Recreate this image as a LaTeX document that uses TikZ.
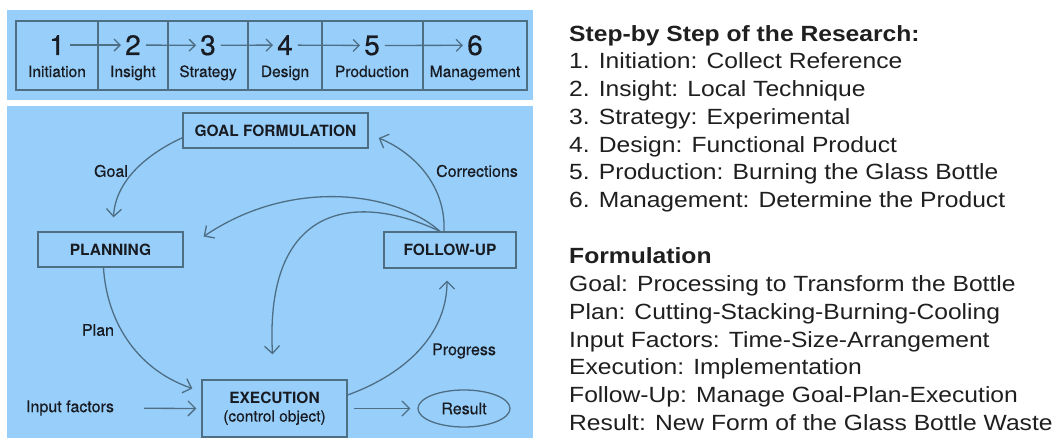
\documentclass[tikz,border=0pt]{standalone}
\usepackage{fontspec}
\setmainfont{Liberation Sans}
\newfontfamily\diagfont[FakeBold=0.5]{TeX Gyre Heros}
\newfontfamily\stagefont{TeX Gyre Heros}
\newfontfamily\sidefont[FakeStretch=1.12]{Liberation Sans}
\usetikzlibrary{arrows.meta,calc,shapes.geometric}
\definecolor{panelblue}{RGB}{152,206,250}
\definecolor{slate}{RGB}{78,110,132}
\definecolor{inktext}{RGB}{24,28,34}
\begin{document}
\begin{tikzpicture}[x=1pt,y=-1pt,
  rule/.style={draw=slate,line width=1.3pt},
  flow/.style={draw=slate,line width=1.3pt,-{Straight Barb[length=7.5pt,width=15pt]}},
  stepflow/.style={draw=slate,line width=1.3pt,-{Straight Barb[length=6pt,width=12pt]},shorten <=5pt,shorten >=4pt},
  stage/.style={draw=slate,line width=1.3pt,inner sep=0pt,font=\stagefont\bfseries\fontsize{15.5}{19}\selectfont,text=inktext,align=center},
  note/.style={inner sep=0pt,font=\diagfont\fontsize{16}{18}\selectfont,text=inktext},
  num/.style={inner sep=0pt,font=\diagfont\fontsize{28}{30}\selectfont,text=inktext,anchor=base},
  colcap/.style={inner sep=0pt,font=\diagfont\fontsize{15.5}{18}\selectfont,text=inktext,anchor=base},
  side/.style={inner sep=0pt,anchor=base west,font=\sidefont\fontsize{22}{26}\selectfont,text=black!88},
  sidehead/.style={side,font=\sidefont\bfseries\fontsize{22}{26}\selectfont}
]
\useasboundingbox (0,0) rectangle (1057,438);
\fill[white] (0,0) rectangle (1057,438);
\fill[panelblue] (7,10) rectangle (533,100);
\fill[panelblue] (7,106) rectangle (533,438);

% ---- six stages table ----
\draw[rule] (16,21) rectangle (527,90);
\foreach \x in {98,168,248,322,423} \draw[rule] (\x,21) -- (\x,90);

\node[num] (d1) at (57,55) {1};
\node[num] (d2) at (133,55) {2};
\node[num] (d3) at (208,55) {3};
\node[num] (d4) at (285,55) {4};
\node[num] (d5) at (372,55) {5};
\node[num] (d6) at (475,55) {6};

\node[colcap] (c1) at (57,77) {Initiation};
\node[colcap] (c2) at (133,77) {Insight};
\node[colcap] (c3) at (208,77) {Strategy};
\node[colcap] (c4) at (285,77) {Design};
\node[colcap] (c5) at (372,77) {Production};
\node[colcap] (c6) at (475,77) {Management};

\draw[stepflow] (d1) -- (d2);
\draw[stepflow] (d2) -- (d3);
\draw[stepflow] (d3) -- (d4);
\draw[stepflow] (d4) -- (d5);
\draw[stepflow] (d5) -- (d6);

% ---- control cycle ----
\node[stage,minimum width=185pt,minimum height=35pt] (goal) at (275.5,130.5) {GOAL FORMULATION};
\node[stage,minimum width=145pt,minimum height=35pt] (plan) at (110.5,249.5) {PLANNING};
\node[stage,minimum width=132pt,minimum height=36pt] (follow) at (450,250) {FOLLOW-UP};
\node[stage,minimum width=145pt,minimum height=57pt] (exec) at (274.5,408.5)
  {EXECUTION\\[-1pt]{\diagfont\mdseries (control object)}};
\node[draw=slate,line width=1.3pt,ellipse,minimum width=92pt,minimum height=37pt,inner sep=0pt,
  font=\diagfont\fontsize{16}{18}\selectfont,text=inktext] (result) at (464,408.5) {Result};

\node[note] (inp) at (70,408) {Input factors};
\node[note] (lgoal) at (111,171) {Goal};
\node[note] (lcorr) at (477,171) {Corrections};
\node[note] (lplan) at (98,330) {Plan};
\node[note] (lprog) at (464,351) {Progress};

% goal -> planning
\draw[flow] ($(goal.south west)!0.3!(goal.north west)$)
  .. controls +(-33,15) and +(2,-38) .. ($(plan.north)+(3,-14)$);
% follow-up -> goal formulation
\draw[flow] ($(follow.north)+(-6,0)$)
  .. controls +(2,-47) and +(34,14) .. ($(goal.east)+(10,7.5)$);
% follow-up -> planning
\draw[flow] ($(follow.north)+(-10,0)$)
  .. controls +(-45,-40) and +(87,-59) .. ($(plan.east)+(20,-13)$);
% follow-up -> execution
\draw[flow] ($(follow.north)+(-10,0)$)
  .. controls +(-85,-40) and +(-8,-150) .. ($(exec.north)+(-2,-25)$);
% planning -> execution
\draw[flow] ($(plan.south)+(-7,0)$)
  .. controls +(3,51) and +(-58,-20) .. ($(exec.west)+(-9,-20)$);
% execution -> follow-up
\draw[flow] ($(exec.east)+(0,-13.5)$)
  .. controls +(63,-23) and +(0,50) .. ($(follow.south)+(-3,12)$);
% input factors -> execution -> result
\draw[flow,shorten <=30pt,shorten >=5pt] (inp) -- (exec.west);
\draw[flow,shorten <=6pt,shorten >=7pt] (exec.east) -- (result.west);

% ---- explanatory text ----
\node[sidehead] (h1) at (569,41.3) {Step-by Step of the Research:};
\node[side] (s1) at (569,69.0) {1. Initiation: Collect Reference};
\node[side] (s2) at (569,96.7) {2. Insight: Local Technique};
\node[side] (s3) at (569,124.4) {3. Strategy: Experimental};
\node[side] (s4) at (569,152.1) {4. Design: Functional Product};
\node[side] (s5) at (569,179.8) {5. Production: Burning the Glass Bottle};
\node[side] (s6) at (569,207.5) {6. Management: Determine the Product};

\node[sidehead] (h2) at (569,264.0) {Formulation};
\node[side] (f1) at (569,291.7) {Goal: Processing to Transform the Bottle};
\node[side] (f2) at (569,319.4) {Plan: Cutting-Stacking-Burning-Cooling};
\node[side] (f3) at (569,347.1) {Input Factors: Time-Size-Arrangement};
\node[side] (f4) at (569,374.8) {Execution: Implementation};
\node[side] (f5) at (569,402.5) {Follow-Up: Manage Goal-Plan-Execution};
\node[side] (f6) at (569,430.2) {Result: New Form of the Glass Bottle Waste};
\end{tikzpicture}
\end{document}
